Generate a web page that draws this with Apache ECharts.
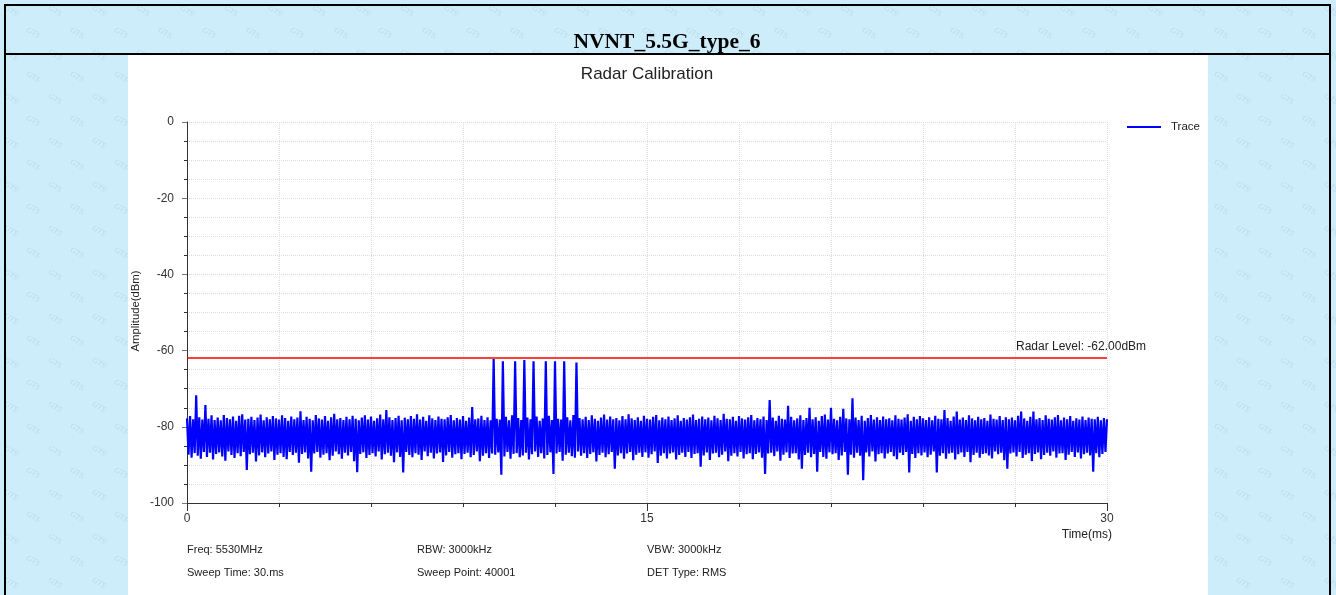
<!DOCTYPE html>
<html>
<head>
<meta charset="utf-8">
<script src="https://cdn.jsdelivr.net/npm/echarts@6/dist/echarts.min.js"></script>
<style>
  html, body { margin: 0; padding: 0; width: 1336px; height: 595px; overflow: hidden; background-color: #cdedfb; }
  #panel { position: absolute; left: 128px; top: 55px; width: 1080px; height: 560px; background: #ffffff; }
  #frame { position: absolute; left: 4px; top: 4px; width: 1327px; height: 700px; border: 2px solid #000; box-sizing: border-box; }
  #hline { position: absolute; left: 4px; top: 53px; width: 1327px; height: 2px; background: #000; }
  #chart { position: absolute; left: 0; top: 0; width: 1336px; height: 595px; }
</style>
</head>
<body>
<div id="panel"></div>
<div id="frame"></div>
<div id="hline"></div>
<div id="chart"></div>
<script>
// ---------------- data ----------------
const pageTitle = 'NVNT_5.5G_type_6';
const chartTitle = 'Radar Calibration';
const seriesName = 'Trace';
const sweepTimeMs = 30;
const radarLevel = -62;
const radarLabel = 'Radar Level: -62.00dBm';
const xAxisName = 'Time(ms)';
const yAxisName = 'Amplitude(dBm)';
const infoRow1 = ['Freq: 5530MHz', 'RBW: 3000kHz', 'VBW: 3000kHz'];
const infoRow2 = ['Sweep Time: 30.ms', 'Sweep Point: 40001', 'DET Type: RMS'];

// trace amplitude (dBm), read as envelope points evenly spaced over the sweep
const trace = [
-77.8,-87.3,-77.2,-88.1,-78.0,-86.9,-71.7,-87.6,-77.5,-88.4,-78.1,-86.6,-74.3,-87.9,-77.9,-86.8,-77.0,-88.6,-78.2,-87.1,
-77.6,-86.7,-78.3,-87.8,-76.9,-88.9,-77.7,-86.5,-78.0,-87.4,-77.3,-88.2,-78.4,-86.9,-77.1,-87.7,-76.7,-86.6,-78.1,-91.3,
-77.9,-87.2,-77.4,-86.8,-78.2,-89.1,-77.6,-87.5,-76.8,-86.7,-78.3,-88.0,-77.5,-87.0,-78.0,-86.5,-77.2,-88.7,-77.8,-87.3,
-78.1,-86.9,-77.0,-87.9,-77.7,-88.5,-78.4,-86.6,-77.3,-87.4,-78.0,-86.8,-77.6,-89.4,-75.9,-87.1,-78.2,-86.7,-77.4,-88.3,
-77.9,-91.8,-78.3,-87.0,-76.9,-86.6,-77.8,-88.1,-78.1,-87.3,-77.2,-86.9,-78.4,-88.8,-77.5,-87.6,-76.6,-86.5,-78.0,-87.2,
-77.7,-88.4,-78.2,-86.8,-77.4,-87.5,-78.0,-86.6,-77.1,-89.0,-77.9,-91.9,-78.3,-87.1,-77.6,-86.7,-77.0,-88.2,-78.1,-87.4,
-77.3,-86.9,-78.4,-87.8,-77.8,-86.5,-76.8,-88.6,-78.0,-87.2,-75.6,-86.8,-77.5,-87.6,-78.2,-89.3,-77.7,-86.7,-77.1,-87.9,
-78.3,-92.0,-77.6,-86.6,-78.0,-87.4,-77.2,-88.0,-77.9,-86.9,-76.7,-87.3,-78.1,-88.7,-77.4,-86.5,-78.4,-87.7,-77.0,-86.8,
-77.8,-88.3,-78.2,-87.0,-77.3,-86.7,-77.9,-89.2,-78.0,-87.5,-77.5,-86.6,-76.9,-88.1,-78.3,-87.2,-77.7,-86.9,-78.1,-88.5,
-77.2,-87.1,-78.4,-86.8,-77.6,-88.0,-74.8,-87.4,-78.0,-86.5,-77.8,-89.0,-77.1,-87.6,-78.2,-86.9,-77.5,-88.2,-78.3,-87.0,
-62.2,-87.3,-77.9,-86.7,-78.1,-92.6,-62.8,-87.8,-77.4,-86.6,-78.3,-88.4,-77.0,-87.1,-62.8,-86.9,-77.7,-88.0,-78.2,-87.5,
-62.5,-86.8,-77.6,-88.6,-78.0,-87.2,-62.8,-86.5,-77.3,-87.9,-78.4,-86.9,-77.8,-88.3,-62.8,-87.4,-77.1,-86.7,-78.2,-92.4,
-62.8,-87.0,-77.9,-86.6,-78.1,-88.9,-62.8,-87.3,-77.5,-86.8,-78.3,-87.7,-76.9,-88.1,-63.1,-86.5,-77.7,-87.6,-78.0,-86.9,
-77.4,-88.2,-78.2,-87.1,-77.0,-86.7,-77.9,-89.1,-78.4,-87.4,-77.6,-86.8,-76.8,-88.0,-78.1,-87.2,-77.3,-86.6,-78.0,-91.0,
-77.7,-87.5,-78.3,-86.9,-77.2,-88.4,-78.0,-87.0,-76.7,-86.6,-77.8,-88.8,-78.2,-87.3,-77.5,-86.8,-78.4,-87.9,-77.1,-86.7,
-77.9,-88.1,-78.1,-87.2,-77.4,-86.5,-76.9,-89.5,-78.3,-87.6,-77.6,-86.9,-78.0,-88.3,-77.3,-87.0,-78.2,-86.7,-77.8,-88.6,
-77.0,-87.4,-78.4,-86.8,-77.7,-87.9,-78.1,-86.6,-77.5,-88.2,-76.8,-87.1,-78.2,-86.9,-77.9,-90.5,-77.3,-87.5,-78.0,-86.7,
-77.6,-88.7,-78.3,-87.0,-77.1,-86.8,-77.8,-88.0,-78.2,-87.3,-76.6,-86.5,-77.9,-89.0,-78.0,-87.6,-77.4,-86.9,-78.4,-87.8,
-77.2,-86.6,-77.8,-88.3,-78.1,-87.2,-77.5,-86.9,-76.9,-88.5,-78.3,-87.1,-77.7,-86.7,-78.0,-88.1,-77.3,-92.4,-78.2,-87.0,
-73.0,-86.8,-77.6,-87.7,-78.4,-86.5,-77.1,-88.9,-77.9,-87.3,-78.1,-86.7,-74.5,-88.2,-77.4,-87.0,-78.3,-86.9,-77.8,-88.6,
-77.0,-91.0,-78.2,-87.4,-77.7,-86.8,-75.0,-88.0,-78.0,-87.1,-77.5,-91.8,-78.4,-86.6,-77.2,-87.9,-76.8,-88.4,-78.1,-86.7,
-75.0,-87.2,-77.9,-86.9,-78.3,-88.7,-77.4,-87.5,-75.3,-86.6,-77.8,-92.6,-78.0,-87.3,-72.5,-88.1,-77.6,-86.8,-78.2,-87.6,
-77.1,-94.0,-78.4,-86.7,-77.7,-87.8,-76.9,-86.5,-78.1,-89.1,-77.5,-87.2,-78.2,-86.9,-77.3,-88.3,-78.0,-87.0,-77.8,-86.6,
-78.3,-87.7,-77.0,-88.5,-77.9,-86.8,-78.1,-87.4,-77.6,-86.6,-76.7,-92.0,-78.4,-87.1,-77.4,-88.2,-78.0,-86.9,-77.2,-87.5,
-77.8,-86.7,-78.2,-88.0,-77.5,-87.3,-78.3,-86.5,-77.1,-92.0,-77.9,-87.6,-78.0,-86.9,-75.6,-88.4,-77.7,-87.0,-78.4,-86.8,
-77.3,-88.6,-76.0,-87.2,-78.1,-86.7,-77.6,-87.9,-78.2,-86.6,-77.0,-89.3,-77.8,-87.4,-78.3,-86.8,-77.4,-88.1,-78.0,-87.1,
-77.7,-86.9,-78.4,-87.5,-76.8,-88.3,-77.9,-86.5,-78.1,-87.2,-77.2,-86.8,-78.2,-88.8,-77.5,-91.0,-78.0,-87.0,-77.6,-86.7,
-78.3,-87.8,-77.1,-86.6,-76.0,-88.2,-77.8,-87.3,-78.4,-86.9,-77.4,-89.0,-76.0,-87.1,-78.0,-86.7,-77.7,-88.5,-78.2,-87.4,
-77.0,-86.8,-77.9,-87.6,-78.1,-86.5,-77.5,-88.1,-76.9,-87.0,-78.3,-86.9,-77.6,-88.7,-78.0,-87.3,-77.2,-86.6,-78.4,-87.9,
-77.8,-86.7,-78.1,-88.3,-77.3,-87.2,-78.2,-86.8,-77.6,-87.5,-77.9,-91.8,-78.0,-86.9,-77.4,-88.0,-78.3,-87.1,-77.7,-86.6,
-78.0
];

// ---------------- watermark background ----------------
(function () {
  const c = document.createElement('canvas');
  c.width = 44; c.height = 44;
  const ctx = c.getContext('2d');
  ctx.font = 'italic 8px "Liberation Serif", serif';
  ctx.fillStyle = 'rgba(95,125,145,0.17)';
  ctx.textAlign = 'center';
  ctx.textBaseline = 'middle';
  [[11, 11], [33, 33]].forEach(function (p) {
    ctx.save();
    ctx.translate(p[0], p[1]);
    ctx.rotate(0.55);
    ctx.fillText('GTS', 0, 0);
    ctx.restore();
  });
  document.body.style.backgroundImage = 'url(' + c.toDataURL() + ')';
})();

// ---------------- chart ----------------
const dt = sweepTimeMs / (trace.length - 1);
const traceData = trace.map((v, i) => [i * dt, v]);

const FONT = '"Liberation Sans", Arial, sans-serif';
const chart = echarts.init(document.getElementById('chart'), null, { renderer: 'canvas' });

const infoCols = [187, 417, 647];
const infoGraphics = [];
infoRow1.forEach((t, k) => infoGraphics.push({
  type: 'text', x: infoCols[k], y: 550,
  style: { text: t, font: '11px ' + FONT, fill: '#222', align: 'left', verticalAlign: 'middle', textAlign: 'left', textVerticalAlign: 'middle' }
}));
infoRow2.forEach((t, k) => infoGraphics.push({
  type: 'text', x: infoCols[k], y: 573,
  style: { text: t, font: '11px ' + FONT, fill: '#222', align: 'left', verticalAlign: 'middle', textAlign: 'left', textVerticalAlign: 'middle' }
}));

const option = {
  animation: false,
  backgroundColor: 'transparent',
  textStyle: { fontFamily: FONT },
  grid: { left: 187, top: 122, width: 920, height: 381, containLabel: false },
  legend: {
    data: [seriesName], left: 1127, top: 121, padding: 0,
    icon: 'rect', itemWidth: 34, itemHeight: 2,
    textStyle: { fontSize: 11.5, color: '#222', fontFamily: FONT, padding: [0, 0, 0, 5] }
  },
  xAxis: {
    type: 'value', min: 0, max: sweepTimeMs, interval: 15,
    axisLine: { onZero: false, lineStyle: { color: '#333', width: 1 } },
    axisTick: { show: true, length: 8, lineStyle: { color: '#333' } },
    minorTick: { show: true, splitNumber: 5, length: 4, lineStyle: { color: '#333' } },
    axisLabel: { fontSize: 12, color: '#333', margin: 10, fontFamily: FONT },
    splitLine: { show: true, lineStyle: { type: 'dotted', color: '#dcdcdc' } },
    minorSplitLine: { show: true, lineStyle: { type: 'dotted', color: '#dcdcdc' } }
  },
  yAxis: {
    type: 'value', min: -100, max: 0, interval: 20,
    axisLine: { show: true, onZero: false, lineStyle: { color: '#333', width: 1 } },
    axisTick: { show: true, length: 5, lineStyle: { color: '#777' } },
    minorTick: { show: true, splitNumber: 4, length: 3, lineStyle: { color: '#333' } },
    axisLabel: { fontSize: 12, color: '#333', margin: 13, fontFamily: FONT },
    splitLine: { show: true, lineStyle: { type: 'dotted', color: '#dcdcdc' } },
    minorSplitLine: { show: true, lineStyle: { type: 'dotted', color: '#dcdcdc' } }
  },
  series: [{
    name: seriesName, type: 'line', data: traceData,
    showSymbol: false, symbol: 'none',
    lineStyle: { color: '#0000ff', width: 2.2, join: 'bevel' },
    itemStyle: { color: '#0000ff' },
    z: 3,
    markLine: {
      silent: true, symbol: 'none', animation: false,
      data: [{ yAxis: radarLevel }],
      lineStyle: { color: '#ff0000', width: 1.5, type: 'solid' },
      label: { show: false }
    }
  }],
  graphic: [
    { type: 'text', x: 667, y: 42,
      style: { text: pageTitle, font: 'bold 21.5px "Liberation Serif", "Times New Roman", serif', fill: '#000', align: 'center', verticalAlign: 'middle', textAlign: 'center', textVerticalAlign: 'middle' } },
    { type: 'text', x: 647, y: 74,
      style: { text: chartTitle, font: '17px ' + FONT, fill: '#222', align: 'center', verticalAlign: 'middle', textAlign: 'center', textVerticalAlign: 'middle' } },
    { type: 'text', x: 135.5, y: 311, rotation: Math.PI / 2,
      style: { text: yAxisName, font: '11.3px ' + FONT, fill: '#222', align: 'center', verticalAlign: 'middle', textAlign: 'center', textVerticalAlign: 'middle' } },
    { type: 'text', x: 1112, y: 535,
      style: { text: xAxisName, font: '12px ' + FONT, fill: '#222', align: 'right', verticalAlign: 'middle', textAlign: 'right', textVerticalAlign: 'middle' } },
    { type: 'text', x: 1016, y: 347,
      style: { text: radarLabel, font: '12px ' + FONT, fill: '#222', align: 'left', verticalAlign: 'middle', textAlign: 'left', textVerticalAlign: 'middle' } }
  ].concat(infoGraphics)
};
chart.setOption(option);
</script>
</body>
</html>
